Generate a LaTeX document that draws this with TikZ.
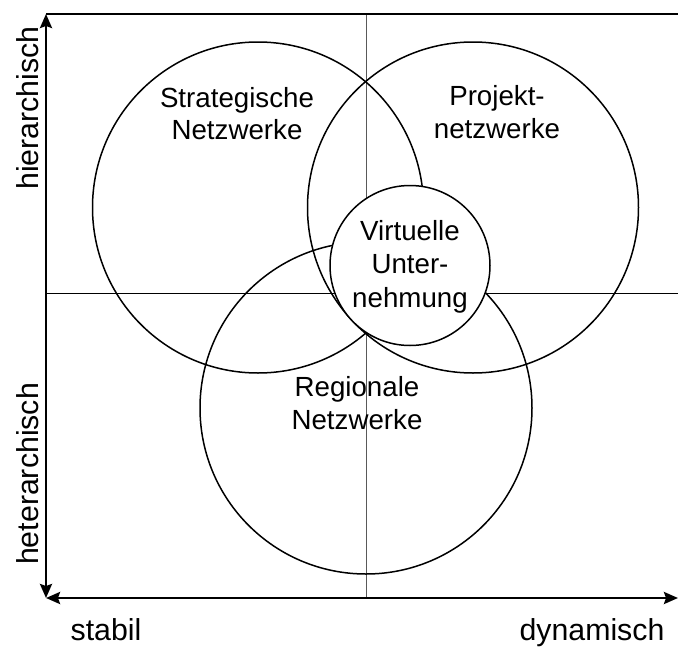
\documentclass[tikz,border=0pt]{standalone}
\usepackage{fontspec}
\setmainfont{Liberation Sans}
\usetikzlibrary{arrows.meta}
\begin{document}
\begin{tikzpicture}[x=1pt,y=-1pt,
  lbl/.style={anchor=base,inner sep=0pt,font=\fontsize{27.7}{33.5}\selectfont},
  axlbl/.style={anchor=base,inner sep=0pt,font=\fontsize{30.3}{36}\selectfont},
  axis/.style={line width=2.5pt,{Stealth[length=14pt,width=12pt,inset=2pt]}-{Stealth[length=14pt,width=12pt,inset=2pt]}},
  grid/.style={line width=1pt},
  set/.style={circle,draw,line width=1.5pt,inner sep=0pt}
]
\useasboundingbox (0,0) rectangle (678,646);

% frame corners and axis ends
\coordinate (tl) at (46,14);
\coordinate (tr) at (678,14);
\coordinate (bl) at (46,598);
\coordinate (br) at (678,598);
\coordinate (vt) at (366,14);
\coordinate (vb) at (366,598);
\coordinate (hl) at (46,293);
\coordinate (hr) at (678,293);

% quadrant dividers
\draw[grid,black!65] (vt) -- (vb);
\draw[grid] (hl) -- (hr);

% network types
\node[set,minimum size=331pt] (strat) at (258,207.5) {};
\node[set,minimum size=331pt] (proj) at (473,207.5) {};
\node[set,minimum size=332pt] (reg) at (366,408) {};
\node[set,fill=white,minimum size=160pt] (virt) at (410,265.5) {};

% top edge and axes
\draw[line width=2.5pt] (tl) -- (tr);
\draw[axis] (bl) -- (tl);
\draw[axis] (bl) -- (br);

% circle labels
\node[lbl] (s1) at (237,107) {Strategische};
\node[lbl] (s2) at (237,139) {Netzwerke};
\node[lbl] (p1) at (497,105) {Projekt-};
\node[lbl] (p2) at (497,138) {netzwerke};
\node[lbl] (v1) at (410,240) {Virtuelle};
\node[lbl] (v2) at (410,273) {Unter-};
\node[lbl] (v3) at (410,307) {nehmung};
\node[lbl] (r1) at (357,396) {Regionale};
\node[lbl] (r2) at (357,429) {Netzwerke};

% axis labels
\node[axlbl] (xa) at (106,640) {stabil};
\node[axlbl] (xb) at (592,640) {dynamisch};
\node[axlbl,rotate=90] (ya) at (38,108) {hierarchisch};
\node[axlbl,rotate=90] (yb) at (38,474) {heterarchisch};
\end{tikzpicture}
\end{document}
